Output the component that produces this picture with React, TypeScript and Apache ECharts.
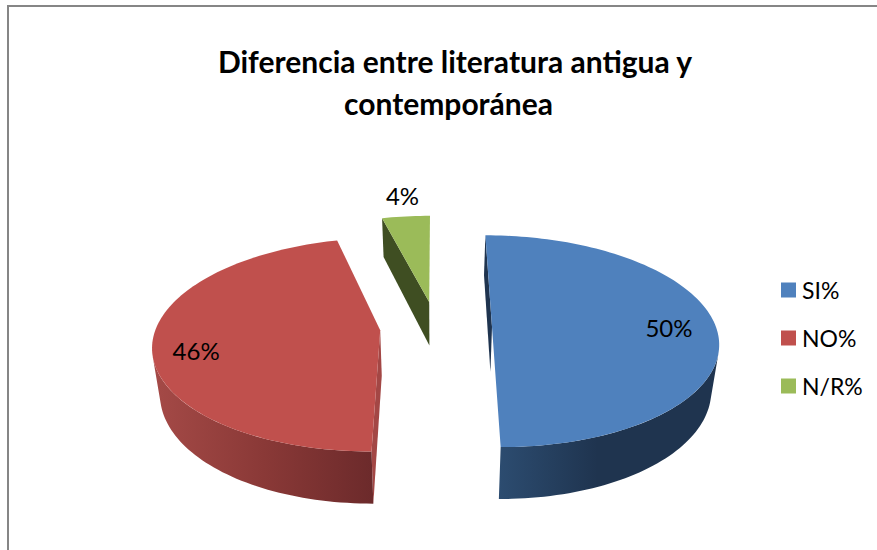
import React, { useEffect, useRef } from "react";
import * as echarts from "echarts";

const titleLines = ["Diferencia entre literatura antigua y", "contemporánea"];
const categories = ["SI%", "NO%", "N/R%"];
const values = [50, 46, 4];
const labels = ["50%", "46%", "4%"];
const topColors = ["#4F81BD", "#C0504D", "#9BBB59"];
const cutColors = ["#1F344F", "#A34745", "#3F4E22"];
const wallStops = [
  [[0, "#2C4C70"], [0.45, "#1F344F"], [1, "#1F344F"]],
  [[0, "#A54A47"], [0.5, "#8A3937"], [1, "#6C2A2B"]],
  [[0, "#3F4E22"], [1, "#3F4E22"]],
];
const labelRadius = [0.79, 0.81, 1.17];
const labelShiftY = [0, 9, -8];
const titleCenters = [450, 443.5];
const titleTops = [34, 76];

const CX = 436, CY = 327, RX = 224, RY = 104, PERSP = 0.134, DEPTH = 45, TAPER = 0.972, EXPLODE = 0.25;
const WALL_FROM = 14, WALL_TO = 166;
const total = values.reduce((a, b) => a + b, 0);
const rad = (d: number) => (d * Math.PI) / 180;

function project(X: number, Z: number, lower = false): number[] {
  const w = 1 - PERSP * Z;
  const x = (RX * X) / w;
  const y = (RY * Z) / w;
  return lower ? [CX + x * TAPER, CY + y + DEPTH / w] : [CX + x, CY + y];
}

function sliceAngles(i: number) {
  const before = values.slice(0, i).reduce((a, b) => a + b, 0);
  const start = -90 + (before / total) * 360;
  const end = start + (values[i] / total) * 360;
  return { start, end, mid: (start + end) / 2 };
}

function arcAngles(a: number, b: number): number[] {
  const n = Math.max(2, Math.ceil((b - a) / 1.5));
  const out: number[] = [];
  for (let k = 0; k <= n; k++) out.push(a + ((b - a) * k) / n);
  return out;
}

function renderSlice(i: number) {
  return (_params: any, api: any) => {
    const { start, end, mid } = sliceAngles(i);
    const ox = EXPLODE * Math.cos(rad(mid));
    const oz = EXPLODE * Math.sin(rad(mid));
    const rim = (a: number, lower = false) => project(ox + Math.cos(rad(a)), oz + Math.sin(rad(a)), lower);
    const apex = (lower = false) => project(ox, oz, lower);
    const children: any[] = [];
    children.push({
      type: "polygon",
      shape: { points: [apex(), rim(start), rim(start, true), apex(true)] },
      style: { fill: cutColors[i] },
    });
    const wallFrom = Math.max(start, WALL_FROM);
    const wallTo = Math.min(end, WALL_TO);
    if (wallTo > wallFrom) {
      const arc = arcAngles(wallFrom, wallTo);
      const pts = [...arc.map((a) => rim(a)), ...arc.slice().reverse().map((a) => rim(a, true))];
      children.push({
        type: "polygon",
        shape: { points: pts },
        style: {
          fill: {
            type: "linear", x: 0, y: 0, x2: 1, y2: 0,
            colorStops: wallStops[i].map(([offset, color]) => ({ offset, color })),
          },
        },
      });
    }
    children.push({
      type: "polygon",
      shape: { points: [apex(), ...arcAngles(start, end).map((a) => rim(a))] },
      style: { fill: topColors[i] },
    });
    const r = labelRadius[i];
    const lp = project(ox + r * Math.cos(rad(mid)), oz + r * Math.sin(rad(mid)));
    children.push({
      type: "text",
      style: {
        text: labels[i],
        x: lp[0],
        y: lp[1] + labelShiftY[i],
        align: "center",
        verticalAlign: "middle",
        fontFamily: "Lato",
        fontSize: 24,
        fill: "#000000",
      },
    });
    api.value(0);
    return { type: "group", children };
  };
}

export default function App() {
  const ref = useRef<HTMLDivElement>(null);
  useEffect(() => {
    document.body.style.margin = "0";
    const chart = echarts.init(ref.current!, undefined, { renderer: "svg" });
    chart.setOption({
      animation: false,
      backgroundColor: "#FFFFFF",
      title: titleLines.map((text, i) => ({
        text,
        left: titleCenters[i],
        top: titleTops[i],
        textAlign: "center",
        textStyle: { fontFamily: "Lato", fontWeight: "bold", fontSize: 30, lineHeight: 44, color: "#000000" },
      })),
      legend: {
        data: categories,
        orient: "vertical",
        left: 776,
        top: 272,
        icon: "rect",
        itemWidth: 15,
        itemHeight: 15,
        itemGap: 22,
        textStyle: { fontFamily: "Lato", fontSize: 23, color: "#000000", padding: [0, 0, 0, 1], lineHeight: 26 },
      },
      graphic: [
        { type: "rect", shape: { x: 7, y: 5, width: 2, height: 545 }, style: { fill: "#868686" } },
        { type: "rect", shape: { x: 7, y: 5, width: 870, height: 2 }, style: { fill: "#868686" } },
      ],
      series: categories.map((name, i) => ({
        type: "custom",
        name,
        coordinateSystem: "none",
        itemStyle: { color: topColors[i] },
        data: [[values[i]]],
        renderItem: renderSlice(i),
      })),
    });
    return () => chart.dispose();
  }, []);
  return <div ref={ref} style={{ width: 877, height: 550 }} />;
}
